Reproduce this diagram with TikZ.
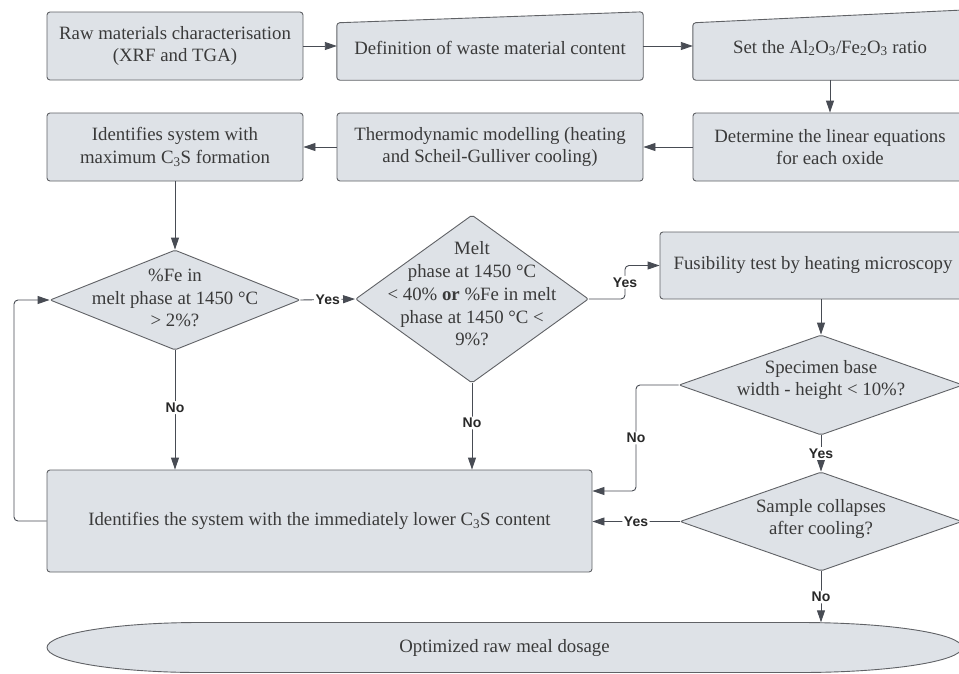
\documentclass[tikz,border=0pt]{standalone}
\usepackage{fontspec}
\setmainfont{Liberation Serif}
\newfontfamily\lblfont{Liberation Sans}
\usetikzlibrary{shapes.geometric,arrows.meta}
\definecolor{boxfill}{RGB}{222,226,231}
\definecolor{boxline}{RGB}{96,98,102}
\definecolor{linecol}{RGB}{72,76,84}
\definecolor{txtcol}{RGB}{58,58,58}
\definecolor{lblcol}{RGB}{40,40,40}
\pgfdeclarelayer{bg}
\pgfsetlayers{bg,main}
\tikzset{
  mainfont/.style={font=\fontsize{18.8}{22.7}\selectfont},
  procbox/.style={rectangle, draw=boxline, fill=boxfill, line width=0.9pt, rounded corners=3pt,
    inner sep=0pt, align=center, text=txtcol, mainfont},
  plainbox/.style={rectangle, inner sep=0pt, align=center, text=txtcol, mainfont},
  shapeline/.style={draw=boxline, fill=boxfill, line width=0.9pt, rounded corners=3pt},
  decision/.style={diamond, draw=boxline, fill=boxfill, line width=0.9pt, rounded corners=2pt, inner sep=0pt},
  dtext/.style={align=center, text=txtcol, inner sep=0pt, mainfont},
  conn/.style={draw=linecol, line width=0.9pt, rounded corners=4pt, -{Triangle[length=12pt,width=8pt]}},
  lbl/.style={fill=white, inner sep=1.5pt, text=lblcol, font=\lblfont\bfseries\fontsize{14}{16}\selectfont},
}
\begin{document}
\begin{tikzpicture}[x=1pt,y=-1pt]
\useasboundingbox (0,0) rectangle (959,673);
\begin{pgfonlayer}{bg}
  \fill[white] (0,0) rectangle (959,673);
\end{pgfonlayer}
\clip (0,0) rectangle (959,673);

% row 1
\node[procbox, minimum width=256, minimum height=68] (b1) at (175,46)
  {Raw materials characterisation\\(XRF and TGA)};
\node[plainbox, minimum width=306, minimum height=68] (b2) at (490,46) {};
\node[plainbox, minimum width=274, minimum height=70] (b3) at (830,45) {};
\begin{pgfonlayer}{bg}
  \path[shapeline] (b2.south west) -- ([yshift=-11pt]b2.north west) -- (b2.north east) -- (b2.south east) -- cycle;
  \path[shapeline] (b3.south west) -- ([yshift=-13pt]b3.north west) -- (b3.north east) -- (b3.south east) -- cycle;
\end{pgfonlayer}
\node[dtext] at (490,48) {Definition of waste material content};
\node[dtext] at (830,48) {Set the Al\textsubscript{2}O\textsubscript{3}/Fe\textsubscript{2}O\textsubscript{3} ratio};

% row 2
\node[procbox, minimum width=274, minimum height=68] (b4) at (830,147)
  {Determine the linear equations\\for each oxide};
\node[procbox, minimum width=306, minimum height=68] (b5) at (490,147)
  {Thermodynamic modelling (heating\\and Scheil-Gulliver cooling)};
\node[procbox, minimum width=256, minimum height=68] (b6) at (175,147)
  {Identifies system with\\maximum C\textsubscript{3}S formation};

% decisions
\node[decision, minimum width=250, minimum height=100] (d1) at (175,300) {};
\node[dtext] at (175,298) {\%Fe in\\melt phase at 1450 °C\\> 2\%?};
\node[decision, minimum width=233, minimum height=168] (d2) at (472,299) {};
\node[dtext] at (472,294) {Melt\\phase at 1450 °C\\< 40\% \textbf{or} \%Fe in melt\\phase at 1450 °C <\\9\%?};
\node[procbox, minimum width=306, minimum height=67] (b7) at (813,265.5)
  {Fusibility test by heating microscopy};
\node[decision, minimum width=284, minimum height=100] (d3) at (821,385) {};
\node[dtext] at (821,380) {Specimen base\\width - height < 10\%?};
\node[decision, minimum width=282, minimum height=99] (d4) at (821,521.5) {};
\node[dtext] at (821,519) {Sample collapses\\after cooling?};

% big box
\node[procbox, minimum width=545, minimum height=102] (b8) at (319.5,521)
  {Identifies the system with the immediately lower C\textsubscript{3}S content};

% terminator
\node[plainbox, minimum width=915, minimum height=50] (ell) at (504.5,647.5) {Optimized raw meal dosage};
\begin{pgfonlayer}{bg}
  \path[draw=boxline, fill=boxfill, line width=0.9pt]
    (47,647.5) .. controls (47,633.7) and (115.5,622.5) .. (200,622.5)
    -- (800,622.5) .. controls (889.4,622.5) and (962,633.7) .. (962,647.5)
    .. controls (962,661.3) and (889.4,672.5) .. (800,672.5)
    -- (200,672.5) .. controls (115.5,672.5) and (47,661.3) .. cycle;
\end{pgfonlayer}

% connectors
\draw[conn] (b1.east) -- (b2.west);
\draw[conn] (b2.east) -- (b2.east -| b3.west);
\draw[conn] (b3.south) -- (b4.north);
\draw[conn] (b4.west) -- (b5.east);
\draw[conn] (b5.west) -- (b6.east);
\draw[conn] (b6.south) -- (d1.north);
\draw[conn] (d1.east) -- node[lbl] {Yes} (d2.west);
\draw[conn] (d1.south) -- node[lbl, pos=0.48] {No} (d1.south |- b8.north);
\draw[conn] (d2.south) -- node[lbl, pos=0.46] {No} (d2.south |- b8.north);
\draw[conn] (d2.east) -- (625,299) -- node[lbl] {Yes} (625,265.5) -- (b7.west);
\draw[conn] (b7.south -| d3.north) -- (d3.north);
\draw[conn] (d3.west) -- (636,385) -- node[lbl] {No} (636,491) -- (b8.east |- 636,491);
\draw[conn] (d3.south) -- node[lbl] {Yes} (d4.north);
\draw[conn] (d4.west) -- node[lbl] {Yes} (d4.west -| b8.east);
\draw[conn] (d4.south) -- node[lbl] {No} (d4.south |- ell.north);
\draw[conn] (b8.west) -- (b8.west -| 14,0) -- (d1.west -| 14,0) -- (d1.west);
\end{tikzpicture}
\end{document}
